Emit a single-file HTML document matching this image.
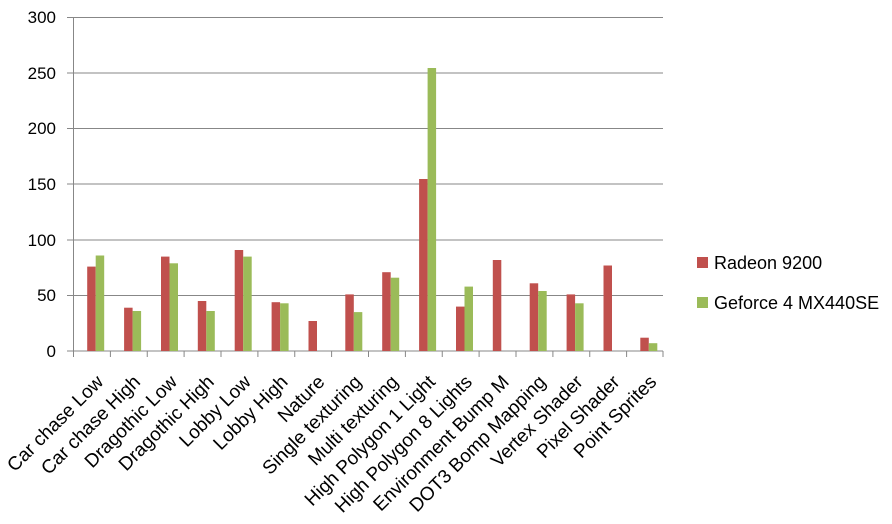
<!DOCTYPE html>
<html><head><meta charset="utf-8"><style>
html,body{margin:0;padding:0;background:#fff;}
svg{display:block;font-family:"Liberation Sans",sans-serif;}
</style></head><body>
<svg width="892" height="524" xmlns="http://www.w3.org/2000/svg">
<g stroke="#878787" stroke-width="1">
<line x1="73" y1="17.5" x2="663" y2="17.5"/>
<line x1="73" y1="73" x2="663" y2="73"/>
<line x1="73" y1="128.5" x2="663" y2="128.5"/>
<line x1="73" y1="184" x2="663" y2="184"/>
<line x1="73" y1="240" x2="663" y2="240"/>
<line x1="73" y1="295.5" x2="663" y2="295.5"/>
<line x1="73.5" y1="17" x2="73.5" y2="357"/>
<line x1="67" y1="351" x2="663" y2="351"/>
<line x1="67" y1="17.5" x2="73" y2="17.5"/>
<line x1="67" y1="73" x2="73" y2="73"/>
<line x1="67" y1="128.5" x2="73" y2="128.5"/>
<line x1="67" y1="184" x2="73" y2="184"/>
<line x1="67" y1="240" x2="73" y2="240"/>
<line x1="67" y1="295.5" x2="73" y2="295.5"/>
<line x1="110.4" y1="351" x2="110.4" y2="357"/>
<line x1="147.25" y1="351" x2="147.25" y2="357"/>
<line x1="184.1" y1="351" x2="184.1" y2="357"/>
<line x1="221" y1="351" x2="221" y2="357"/>
<line x1="257.9" y1="351" x2="257.9" y2="357"/>
<line x1="294.75" y1="351" x2="294.75" y2="357"/>
<line x1="331.6" y1="351" x2="331.6" y2="357"/>
<line x1="368.5" y1="351" x2="368.5" y2="357"/>
<line x1="405.4" y1="351" x2="405.4" y2="357"/>
<line x1="442.25" y1="351" x2="442.25" y2="357"/>
<line x1="479.1" y1="351" x2="479.1" y2="357"/>
<line x1="516" y1="351" x2="516" y2="357"/>
<line x1="552.9" y1="351" x2="552.9" y2="357"/>
<line x1="589.75" y1="351" x2="589.75" y2="357"/>
<line x1="626.6" y1="351" x2="626.6" y2="357"/>
<line x1="663" y1="351" x2="663" y2="357"/>
</g>
<g font-size="17" fill="#000" text-anchor="end">
<text x="56" y="23">300</text><text x="56" y="79">250</text><text x="56" y="134">200</text>
<text x="56" y="190">150</text><text x="56" y="246">100</text><text x="56" y="301">50</text><text x="56" y="357">0</text>
</g>
<g fill="#c0504d">
<rect x="87.2" y="266.6" width="8.5" height="84.4"/>
<rect x="124.1" y="307.7" width="8.5" height="43.3"/>
<rect x="161" y="256.6" width="8.5" height="94.4"/>
<rect x="197.8" y="301" width="8.5" height="50"/>
<rect x="234.7" y="250" width="8.5" height="101"/>
<rect x="271.6" y="302.2" width="8.5" height="48.8"/>
<rect x="308.5" y="321" width="8.5" height="30"/>
<rect x="345.3" y="294.4" width="8.5" height="56.6"/>
<rect x="382.2" y="272.2" width="8.5" height="78.8"/>
<rect x="419.1" y="179" width="8.5" height="172"/>
<rect x="456" y="306.6" width="8.5" height="44.4"/>
<rect x="492.8" y="260" width="8.5" height="91"/>
<rect x="529.7" y="283.3" width="8.5" height="67.7"/>
<rect x="566.6" y="294.4" width="8.5" height="56.6"/>
<rect x="603.5" y="265.5" width="8.5" height="85.5"/>
<rect x="640.3" y="337.7" width="8.5" height="13.3"/>
</g>
<g fill="#9bbb59">
<rect x="95.7" y="255.5" width="8.5" height="95.5"/>
<rect x="132.6" y="311" width="8.5" height="40"/>
<rect x="169.5" y="263.3" width="8.5" height="87.7"/>
<rect x="206.3" y="311" width="8.5" height="40"/>
<rect x="243.2" y="256.6" width="8.5" height="94.4"/>
<rect x="280.1" y="303.3" width="8.5" height="47.7"/>
<rect x="353.8" y="312.1" width="8.5" height="38.9"/>
<rect x="390.7" y="277.7" width="8.5" height="73.3"/>
<rect x="427.6" y="68" width="8.5" height="283"/>
<rect x="464.5" y="286.6" width="8.5" height="64.4"/>
<rect x="538.2" y="291" width="8.5" height="60"/>
<rect x="575.1" y="303.3" width="8.5" height="47.7"/>
<rect x="648.8" y="343.2" width="8.5" height="7.8"/>
</g>
<g font-size="19" fill="#000" text-anchor="end">
<text x="104.4" y="383" transform="rotate(-45 104.4 383)">Car chase Low</text>
<text x="141.3" y="383" transform="rotate(-45 141.3 383)">Car chase High</text>
<text x="178.2" y="383" transform="rotate(-45 178.2 383)">Dragothic Low</text>
<text x="215.1" y="383" transform="rotate(-45 215.1 383)">Dragothic High</text>
<text x="251.9" y="383" transform="rotate(-45 251.9 383)">Lobby Low</text>
<text x="288.8" y="383" transform="rotate(-45 288.8 383)">Lobby High</text>
<text x="325.7" y="383" transform="rotate(-45 325.7 383)">Nature</text>
<text x="362.6" y="383" transform="rotate(-45 362.6 383)">Single texturing</text>
<text x="399.4" y="383" transform="rotate(-45 399.4 383)">Multi texturing</text>
<text x="436.3" y="383" transform="rotate(-45 436.3 383)">High Polygon 1 Light</text>
<text x="473.2" y="383" transform="rotate(-45 473.2 383)">High Polygon 8 Lights</text>
<text x="510.1" y="383" transform="rotate(-45 510.1 383)">Environment Bump M</text>
<text x="546.9" y="383" transform="rotate(-45 546.9 383)">DOT3 Bomp Mapping</text>
<text x="583.8" y="383" transform="rotate(-45 583.8 383)">Vertex Shader</text>
<text x="620.7" y="383" transform="rotate(-45 620.7 383)">Pixel Shader</text>
<text x="657.6" y="383" transform="rotate(-45 657.6 383)">Point Sprites</text>
</g>
<rect x="697" y="257" width="11" height="11" fill="#c0504d"/>
<text x="714" y="269" font-size="18">Radeon 9200</text>
<rect x="697" y="297" width="11" height="11" fill="#9bbb59"/>
<text x="714" y="309" font-size="18">Geforce 4 MX440SE</text>
</svg>
</body></html>
